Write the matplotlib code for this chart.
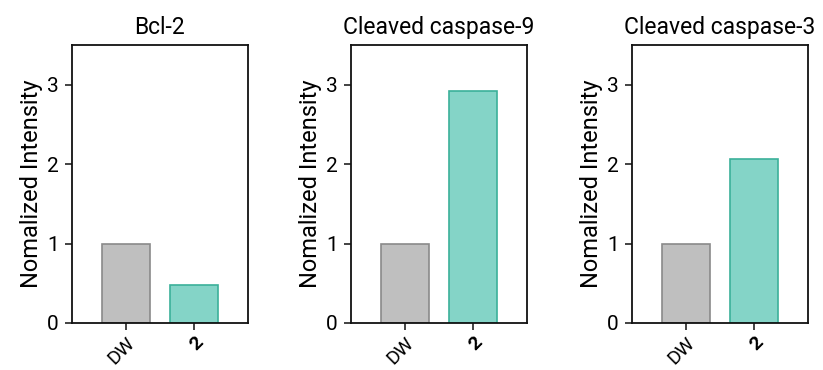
import numpy as np
import matplotlib.pyplot as plt

plt.rcParams['font.family'] = ['Roboto', 'DejaVu Sans']

titles = ['Bcl-2', 'Cleaved caspase-9', 'Cleaved caspase-3']
groups = ['DW', '2']
values = [
    [1.0, 0.48],
    [1.0, 2.92],
    [1.0, 2.07],
]
fill_colors = ['#bfbfbf', '#84d4c7']
edge_colors = ['#8a8a8a', '#3bb09a']

fig = plt.figure(figsize=(8.23, 3.70), dpi=100)
lefts = [72, 351, 632]

for i in range(3):
    ax = fig.add_axes([lefts[i] / 823, 47 / 370, 176 / 823, 278 / 370])
    x = np.arange(len(groups))
    ax.bar(x, values[i], width=0.7, color=fill_colors, edgecolor=edge_colors, linewidth=1.2, zorder=2)
    ax.set_xlim(-0.8, 1.8)
    ax.set_ylim(0, 3.5)
    ax.set_yticks([0, 1, 2, 3])
    ax.set_xticks(x)
    ax.set_xticklabels(groups, rotation=45, ha='right', rotation_mode='anchor')
    ax.get_xticklabels()[1].set_fontweight('bold')
    ax.tick_params(axis='y', labelsize=15, width=1.2, length=5, pad=4.5, color='#222222')
    ax.tick_params(axis='x', labelsize=14, width=1.2, length=5, pad=2.5, color='#222222')
    for s in ax.spines.values():
        s.set_linewidth(1.3)
        s.set_color('#111111')
    ax.set_title(titles[i], fontsize=16.5, pad=8)
    ax.set_ylabel('Nomalized Intensity', fontsize=17, labelpad=3)

fig.savefig('out.png', dpi=100)
